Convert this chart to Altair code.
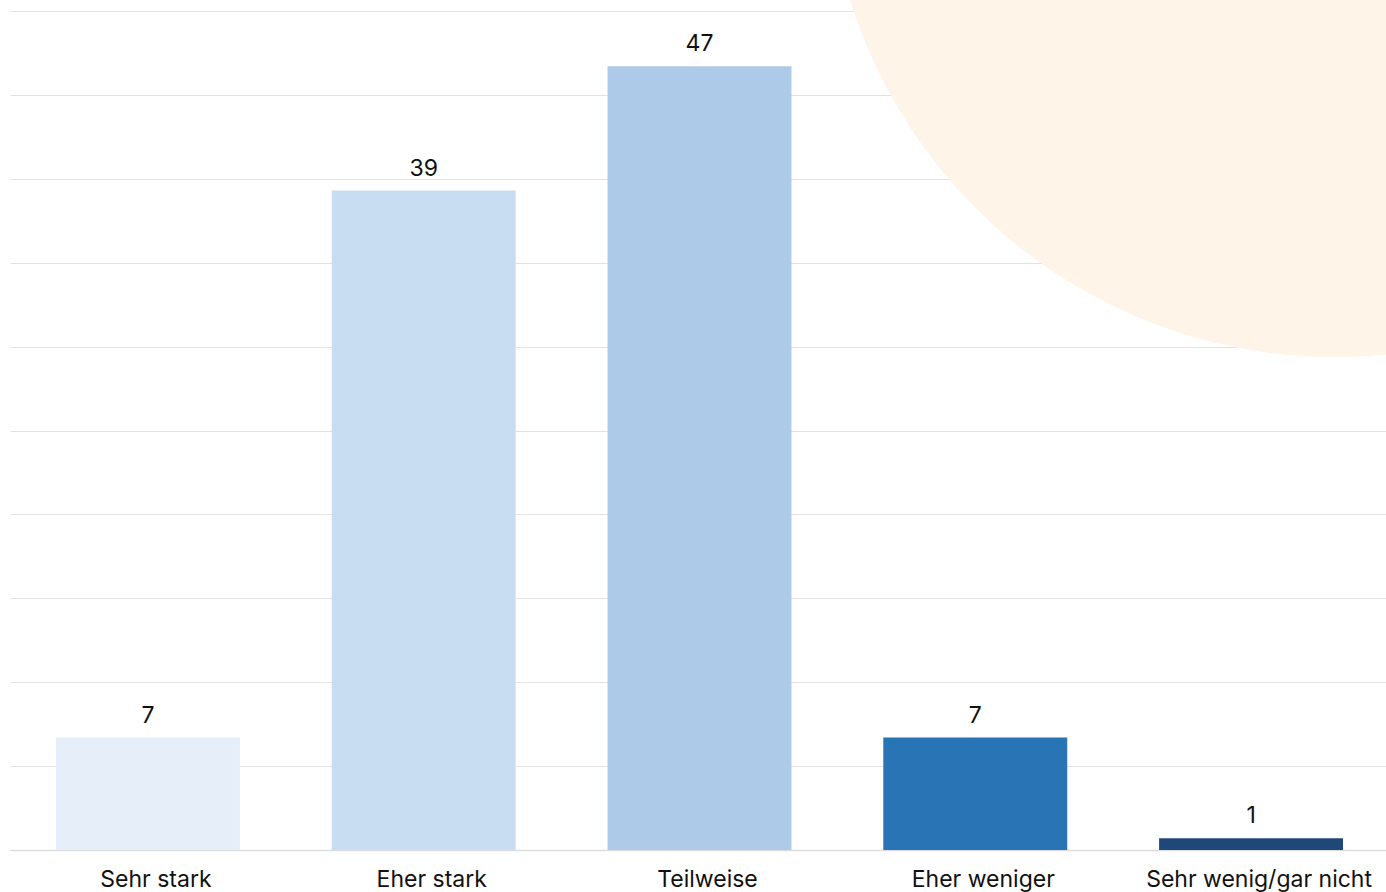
import altair as alt
import pandas as pd

categories = ["Sehr stark", "Eher stark", "Teilweise", "Eher weniger", "Sehr wenig/gar nicht"]
values = [6.7, 39.3, 46.7, 6.7, 0.7]
labels = ["7", "39", "47", "7", "1"]
colors = ["#e6eef9", "#c8ddf2", "#aecae9", "#2874b5", "#1f4878"]

df = pd.DataFrame({"cat": categories, "val": values, "lab": labels, "col": colors})

FONT = "Inter"

x = alt.X("cat:N", sort=categories, title=None,
          scale=alt.Scale(range=[0, 1379], paddingInner=0.333, paddingOuter=0.1667),
          axis=alt.Axis(labelAngle=0, labelFont=FONT, labelFontSize=23, labelColor="#111111",
                        labelPadding=18, ticks=False, domainColor="#dddddd", domainWidth=1.5,
                        labelOffset=8, labelLimit=400, grid=False))
y = alt.Y("val:Q", title=None,
          scale=alt.Scale(domain=[0, 50], nice=False),
          axis=alt.Axis(values=list(range(0, 55, 5)), labels=False, ticks=False, domain=False,
                        gridColor="#e2e2e2", gridWidth=1))

circle = alt.Chart(pd.DataFrame({"a": [1]})).mark_circle(
    size=1032000, color="#fef4e8", opacity=1
).encode(x=alt.value(1325), y=alt.value(-162))

bars = alt.Chart(df).mark_bar().encode(
    x=x, y=y, color=alt.Color("col:N", scale=None)
)

text = alt.Chart(df).mark_text(
    font=FONT, fontSize=23, color="#111111", baseline="alphabetic", dy=-15
).encode(x=alt.X("cat:N", sort=categories), y="val:Q", text="lab:N")

chart = alt.layer(circle, bars, text).properties(
    width=1376, height=839,
    autosize=alt.AutoSizeParams(type="none"),
    padding={"left": 10, "top": 11, "right": 0, "bottom": 42},
    background="white",
).configure_view(stroke=None)

chart.save("out.html", embed_options={"renderer": "svg", "actions": False})
